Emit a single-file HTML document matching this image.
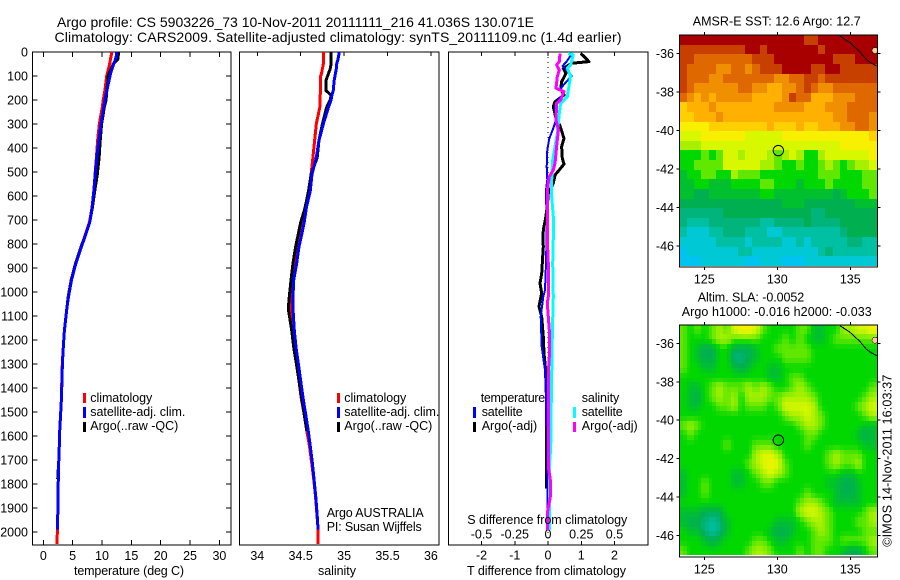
<!DOCTYPE html>
<html>
<head>
<meta charset="utf-8">
<title>Argo profile</title>
<style>
html,body{margin:0;padding:0;background:#fff;}
svg{display:block;}
text{font-family:"Liberation Sans",sans-serif;font-size:12.5px;fill:#000;}
.t{font-size:14px;}
</style>
</head>
<body>
<svg id="chart" xmlns="http://www.w3.org/2000/svg" width="900" height="580" viewBox="0 0 900 580">
<defs>
<clipPath id="clip-sst"><rect x="680" y="35" width="198" height="232"/></clipPath>
<clipPath id="clip-sla"><rect x="680" y="325" width="198" height="232"/></clipPath>
</defs>
<rect width="900" height="580" fill="#fff"/>
<g id="marks"></g>
<g id="overlay">
<text class="t" x="57" y="27" textLength="477">Argo profile: CS 5903226_73 10-Nov-2011 20111111_216 41.036S 130.071E</text>
<text class="t" x="54.5" y="42" textLength="567">Climatology: CARS2009. Satellite-adjusted climatology: synTS_20111109.nc (1.4d earlier)</text>

<text x="74" y="575" textLength="110">temperature (deg C)</text>
<text x="318" y="575" textLength="38">salinity</text>
<text x="467" y="575" textLength="159">T difference from climatology</text>
<text x="467.3" y="524" textLength="160">S difference from climatology</text>

<g>
<rect x="83" y="393" width="3" height="10" fill="#f00"/>
<rect x="83" y="407" width="3" height="11" fill="#00f"/>
<rect x="83" y="422" width="3" height="10" fill="#000"/>
<text x="90.3" y="402" textLength="62">climatology</text>
<text x="90.3" y="416" textLength="95">satellite-adj. clim.</text>
<text x="90.3" y="430" textLength="88">Argo(..raw -QC)</text>
</g>
<g>
<rect x="337" y="393" width="3" height="10" fill="#f00"/>
<rect x="337" y="407" width="3" height="11" fill="#00f"/>
<rect x="337" y="422" width="3" height="10" fill="#000"/>
<text x="344.3" y="402" textLength="62">climatology</text>
<text x="344.3" y="416" textLength="95">satellite-adj. clim.</text>
<text x="344.3" y="430" textLength="88">Argo(..raw -QC)</text>
<text x="326.7" y="517" textLength="97">Argo AUSTRALIA</text>
<text x="326.7" y="531" textLength="95">PI: Susan Wijffels</text>
</g>
<g>
<text x="480.7" y="402" textLength="64.5">temperature</text>
<text x="581.7" y="402" textLength="37.5">salinity</text>
<rect x="473" y="407" width="3" height="11" fill="#00f"/>
<rect x="473" y="422" width="3" height="10" fill="#000"/>
<rect x="573" y="407" width="3" height="11" fill="#0ff"/>
<rect x="573" y="422" width="3" height="10" fill="#f0f"/>
<text x="481.7" y="416" textLength="41">satellite</text>
<text x="481.7" y="430" textLength="55.5">Argo(-adj)</text>
<text x="581.7" y="416" textLength="41">satellite</text>
<text x="581.7" y="430" textLength="56">Argo(-adj)</text>
</g>

<text x="692.7" y="25.5" textLength="168">AMSR-E SST: 12.6 Argo: 12.7</text>
<text x="697.7" y="301.5" textLength="106.5">Altim. SLA: -0.0052</text>
<text x="681.7" y="316" textLength="190">Argo h1000: -0.016 h2000: -0.033</text>
<text transform="translate(891.5 546.7) rotate(-90)" x="0" y="0" textLength="172">©IMOS 14-Nov-2011 16:03:37</text>
</g>
</svg>
<script>
// ---------- profile data (depth in metres) ----------
const depthLevels = [0,10,30,50,70,90,100,120,140,160,180,200,230,300,370,440,510,580,650,710,780,810,880,950,1020,1070,1160,1230,1300,1370,1440,1510,1580,1640,1710,1780,1850,1920,1990,2050];
const tempClim = [11.65,11.6,11.45,11.3,11.1,10.9,10.8,10.7,10.6,10.5,10.35,10.2,10.05,9.54,9.25,9.05,8.8,8.65,8.3,7.85,6.9,6.45,5.5,4.75,4.25,4.0,3.6,3.4,3.24,3.16,3.1,2.95,2.8,2.72,2.62,2.55,2.5,2.47,2.4,2.33];
const tempSat = [12.5,12.5,12.3,12.0,11.7,11.45,11.36,11.2,11.0,10.85,10.65,10.5,10.3,9.83,9.45,9.1,8.85,8.6,8.3,7.9,6.95,6.5,5.55,4.8,4.3,4.0,3.6,3.4,3.25,3.17,3.1,2.95,2.8,2.72,2.62,2.55,2.5,2.47,2.4];
const tempArgo = [12.8,12.8,12.7,11.9,11.6,11.2,11.05,11.0,10.9,10.8,10.75,10.7,10.4,9.94,9.7,9.5,9.2,8.75,8.35,7.9,6.95,6.45,5.5,4.75,4.25,4.0,3.6,3.4,3.25,3.17,3.1,2.95,2.8,2.72,2.62,2.45];
const salClim = [34.76,34.76,34.76,34.76,34.75,34.74,34.73,34.73,34.73,34.73,34.725,34.72,34.72,34.68,34.66,34.64,34.62,34.6,34.56,34.52,34.49,34.47,34.43,34.4,34.376,34.38,34.4,34.43,34.45,34.48,34.505,34.54,34.57,34.6,34.625,34.65,34.67,34.685,34.7,34.7];
const salSat = [34.94,34.94,34.93,34.915,34.91,34.9,34.895,34.885,34.88,34.875,34.86,34.85,34.82,34.76,34.71,34.68,34.63,34.61,34.565,34.54,34.5,34.48,34.454,34.419,34.411,34.411,34.426,34.446,34.473,34.5,34.526,34.558,34.588,34.61,34.634,34.653,34.673,34.688,34.7];
const salArgo = [34.85,34.85,34.85,34.85,34.84,34.82,34.81,34.79,34.79,34.79,34.85,34.84,34.8,34.75,34.71,34.69,34.62,34.59,34.55,34.5,34.46,34.442,34.411,34.388,34.369,34.357,34.396,34.419,34.45,34.48,34.51,34.54,34.573];

const diffDepthTSat = [6,19,40,58,75,100,130,156,172,197,228,283,318,360,408,478,533,575,630,658,742,880,992,1020,1103,1228,1325,1450,1554,1560,1895,1992];
const diffTSat = [0.74,0.66,0.56,0.44,0.56,0.71,0.51,0.36,0.48,0.31,0.21,0.24,0.16,0.04,-0.02,-0.04,-0.02,-0.06,-0.06,-0.02,-0.04,-0.06,-0.09,-0.14,-0.22,-0.19,-0.09,-0.06,-0.06,-0.02,-0.02,-0.02];
const diffDepthTArgo = [6,22,40,47,68,89,124,156,179,207,228,269,308,360,394,443,467,513,547,589,644,700,742,776,811,922,964,1005,1061,1103,1186,1256,1339,1394,1818];
const diffTArgo = [0.98,1.11,1.23,0.71,0.46,0.54,0.41,0.38,0.48,0.21,0.16,0.23,0.36,0.48,0.41,0.43,0.48,0.21,0.16,0.01,-0.02,-0.08,-0.14,-0.15,-0.14,-0.19,-0.24,-0.19,-0.27,-0.19,-0.14,-0.12,-0.06,-0.04,-0.04];
const diffDepthSSat = [6,12,54,68,100,186,214,256,339,394,450,533,603,686,776,881,1020,1158,1339,1506,1651,1728,1992];
const diffSSat = [0.153,0.19,0.17,0.145,0.17,0.145,0.095,0.085,0.07,0.053,0.035,0.028,0.028,0.04,0.04,0.035,0.04,0.033,0.028,0.023,0.02,0.01,0.01];
const diffDepthSArgo = [6,40,54,75,103,151,165,200,214,283,325,394,464,492,519,575,644,776,881,1020,1047,1158,1270,1339,1644,1728,1783,1853,1922,1992];
const diffSArgo = [0.09,0.085,0.065,0.085,0.07,0.06,0.12,0.095,0.065,0.06,0.078,0.065,0.053,0.04,0.01,-0.005,-0.005,-0.005,0.0025,0.0025,-0.005,0.01,0.01,0.0025,0.0025,0.0025,0.0175,0.0175,-0.005,-0.005];

// ---------- tick labels ----------
const depthTicks = [0,100,200,300,400,500,600,700,800,900,1000,1100,1200,1300,1400,1500,1600,1700,1800,1900,2000];
const tempTicks = [0,5,10,15,20,25,30];
const salTicks = [34,34.5,35,35.5,36];
const salTickLabels = ["34","34.5","35","35.5","36"];
const diffTTicks = [-2,-1,0,1,2];
const diffSTicks = [-0.5,-0.25,0,0.25,0.5];
const diffSTickLabels = ["-0.5","-0.25","0","0.25","0.5"];
const lonTicks = [125,130,135];
const latTicks = [-36,-38,-40,-42,-44,-46];
const latTickLabels = ["-36","-38","-40","-42","-44","-46"];

// ---------- map data: colour level per 0.5 degree cell, north to south ----------
const mapColorLevels = [[0,196,240],[0,200,212],[0,192,164],[0,180,124],[0,176,80],[0,192,48],[0,216,0],[96,232,0],[168,240,0],[216,248,0],[248,240,0],[255,208,0],[255,176,0],[240,144,0],[224,104,0],[200,64,0],[168,0,0]];
const cellLons = [123.3,123.8,124.3,124.8,125.3,125.8,126.3,126.8,127.3,127.8,128.3,128.8,129.3,129.8,130.3,130.8,131.3,131.8,132.3,132.8,133.3,133.8,134.3,134.8,135.3,135.8,136.3];
const cellLats = [-35.03,-35.53,-36.03,-36.53,-37.03,-37.53,-38.03,-38.53,-39.03,-39.53,-40.03,-40.53,-41.03,-41.53,-42.03,-42.53,-43.03,-43.53,-44.03,-44.53,-45.03,-45.53,-46.03,-46.53];
const sstGrid = [
[16,16,16,16,16,16,16,16,16,16,16,16,16,16,16,16,16,15,15,16,16,16,16,16,16,16,16],
[15,15,15,15,15,15,15,15,15,16,16,15,16,16,16,16,16,16,16,15,16,16,16,16,16,16,16],
[15,15,14,14,14,14,14,14,14,14,15,15,15,16,16,16,16,16,16,16,16,15,15,15,16,16,16],
[15,14,14,14,14,13,13,14,14,13,14,15,15,15,16,16,16,16,15,15,16,16,15,15,15,15,15],
[15,14,14,14,13,13,14,14,14,14,14,14,14,13,13,14,14,15,15,14,15,15,15,15,15,15,15],
[15,14,13,13,13,13,13,13,14,14,13,13,12,12,13,13,14,15,14,13,13,14,14,14,14,14,14],
[14,13,12,13,12,13,13,13,13,13,12,12,12,12,13,15,14,14,12,12,12,13,13,13,14,14,14],
[11,12,12,12,13,12,12,12,12,12,12,12,12,13,13,13,13,12,12,12,13,13,13,14,14,14,14],
[11,11,12,12,12,13,12,12,12,12,12,12,12,12,12,12,12,12,12,12,12,13,13,14,14,14,13],
[10,10,10,10,11,11,11,11,11,11,11,11,12,11,11,11,12,11,11,12,12,12,13,13,14,14,13],
[9,9,9,10,10,10,10,10,10,9,9,9,9,9,10,10,10,10,10,10,10,10,10,10,10,10,11],
[8,8,8,9,9,9,9,9,9,9,9,9,9,9,9,9,9,9,9,9,9,9,10,10,10,10,10],
[6,6,6,7,6,7,9,9,8,9,9,9,8,7,8,9,8,6,6,8,9,9,9,9,9,9,10],
[6,6,7,7,7,7,9,9,9,9,9,8,8,7,6,6,7,6,6,7,8,7,6,7,8,8,9],
[5,6,6,7,7,6,6,8,7,7,7,6,6,6,6,6,6,6,6,7,7,7,6,6,6,7,7],
[5,5,6,6,5,5,5,6,6,6,6,7,7,6,6,6,5,6,6,6,7,6,6,6,6,7,7],
[5,5,4,4,5,5,5,5,5,5,5,6,6,5,5,5,5,5,5,5,5,4,5,6,6,6,7],
[4,4,4,4,4,4,4,4,4,4,4,4,4,4,5,5,5,4,4,4,4,4,4,4,5,5,5],
[3,3,3,3,3,3,4,4,4,4,4,4,4,4,4,4,4,4,3,3,4,4,4,4,4,4,4],
[3,2,2,2,3,3,3,3,3,3,3,2,2,3,3,3,3,4,3,3,3,3,4,4,4,4,4],
[2,1,1,1,2,2,3,3,3,2,2,2,1,1,2,2,2,2,2,2,2,2,3,4,4,4,4],
[1,1,1,1,1,2,2,2,2,1,2,2,2,2,1,1,2,1,2,2,2,2,2,3,3,2,2],
[0,1,1,1,1,1,1,1,2,2,1,1,1,1,1,1,1,1,1,2,3,2,2,2,2,2,2],
[0,0,0,1,1,1,1,1,1,0,0,1,1,1,0,0,0,1,1,1,1,1,1,1,1,1,1]
];
const slaGrid = [
[7,6,7,6,7,8,7,9,10,10,9,7,6,6,6,6,7,7,5,5,6,6,8,8,9,9,10],
[7,6,6,6,7,8,8,7,7,7,7,6,6,6,7,6,7,6,5,5,6,7,7,7,7,7,7],
[7,6,5,4,4,6,6,4,4,4,5,6,6,7,7,7,7,7,6,6,6,6,6,6,6,6,6],
[7,6,5,4,4,6,6,3,3,4,5,6,6,6,7,7,7,7,6,6,6,6,6,6,6,6,6],
[7,6,6,5,5,6,6,5,4,5,6,6,5,5,6,6,6,6,6,6,6,6,6,6,6,6,6],
[6,6,6,6,6,6,6,6,6,6,6,6,5,5,6,7,7,6,6,6,6,6,6,6,6,6,6],
[6,5,5,6,7,8,7,7,7,8,7,8,7,6,6,7,8,7,6,6,6,6,6,6,6,6,7],
[6,5,4,6,7,8,7,8,6,8,8,8,7,7,8,8,8,8,7,6,6,6,6,6,6,7,8],
[6,5,5,6,6,7,7,8,6,7,7,7,6,7,9,9,9,9,8,6,6,6,6,6,7,8,9],
[6,6,6,6,6,6,6,6,6,6,6,6,6,6,7,8,8,9,8,7,6,6,6,6,6,7,8],
[7,8,7,6,6,6,6,6,6,6,6,6,6,6,6,6,7,8,8,7,6,6,6,6,6,5,5],
[6,7,6,6,6,6,6,6,6,6,6,6,6,6,6,6,6,7,7,6,6,6,6,6,5,4,5],
[6,6,6,6,6,6,7,6,6,6,7,7,7,6,6,6,6,7,6,6,6,6,6,6,6,5,5],
[6,6,6,6,6,6,6,6,6,6,8,9,9,8,6,6,6,6,6,6,7,8,7,7,7,6,6],
[6,6,6,6,6,6,6,6,6,7,8,9,10,9,7,6,6,6,6,6,7,8,7,7,8,6,6],
[5,6,6,6,6,6,6,5,5,6,7,8,9,8,7,6,6,6,6,6,6,6,5,5,6,6,6],
[5,6,6,7,6,6,6,5,5,6,6,7,7,6,6,6,6,6,6,6,5,5,4,4,5,6,6],
[5,6,6,7,6,6,6,6,6,6,6,6,6,6,6,6,6,7,6,6,6,5,4,4,5,6,6],
[6,6,6,6,6,6,6,6,6,6,6,6,6,6,6,6,7,8,8,7,6,5,5,5,5,6,6],
[5,5,5,4,4,4,6,6,6,6,6,6,6,6,6,6,8,9,9,8,7,6,6,6,6,7,8],
[5,4,4,3,2,3,5,6,6,6,6,6,6,5,5,5,6,7,8,8,7,6,6,6,7,7,8],
[6,5,5,3,2,3,5,6,6,6,6,6,5,4,4,5,6,6,7,8,7,6,6,6,6,7,7],
[6,6,6,5,4,5,6,6,6,6,7,7,6,5,5,6,6,6,7,7,7,6,7,7,7,7,8],
[7,6,6,6,6,6,6,6,6,7,8,8,7,6,6,6,7,6,7,7,6,6,5,4,4,6,7]
];
const coastLons = [134.29,134.98,135.66,136.12,136.46,136.8];
const coastLats = [-35.08,-35.43,-35.9,-36.33,-36.5,-36.64];
const profileLon = 130.071;
const profileLat = -41.036;
const townLon = 136.69;
const townLat = -35.84;

// ---------- axis functions ----------
const depthY = d => 52 + 0.24 * d;
const tempX = v => 43.3 + 5.87 * v;
const salX = v => 257.3 + 86.8 * (v - 34);
const diffTX = v => 548 + 33.25 * v;
const diffSX = v => 548 + 133 * v;
const lonX = v => 777.3 + 14.6 * (v - 130);
const sstLatY = v => 53.7 + 19.23 * (-36 - v);
const slaLatY = v => 343.3 + 19.23 * (-36 - v);

const NS = "http://www.w3.org/2000/svg";
const root = document.getElementById("marks");
function make(tag, attrs, parent) {
  const el = document.createElementNS(NS, tag);
  for (const k in attrs) el.setAttribute(k, attrs[k]);
  (parent || root).appendChild(el);
  return el;
}
function tickLine(x1, y1, x2, y2) {
  const el = make("line", {x1: x1, y1: y1, x2: x2, y2: y2, stroke: "#000", "stroke-width": 1, "shape-rendering": "crispEdges"});
  
  
  return el;
}
function tickLabel(x, y, s, anchor) {
  const el = make("text", {x: x, y: y, "text-anchor": anchor});
  el.textContent = s;
  
  
  return el;
}
function frame(x, y, w, h) {
  const el = make("rect", {x: x, y: y, width: w, height: h, fill: "none", stroke: "#000", "stroke-width": 1, "shape-rendering": "crispEdges"});
  
  
  return el;
}
function profileLine(xs, ds, xFn, color, width) {
  const pts = xs.map((v, i) => xFn(v).toFixed(1) + "," + depthY(ds[i]).toFixed(1)).join(" ");
  const el = make("polyline", {points: pts, fill: "none", stroke: color, "stroke-width": width, "stroke-linejoin": "round", "shape-rendering": "crispEdges"});
  
  
  return el;
}

// ---------- profile panels ----------
const TOP = 52, BOT = 545;
// temperature
frame(32.5, TOP, 198.5, BOT - TOP);
depthTicks.forEach(d => {
  tickLine(32.5, depthY(d), 37.5, depthY(d));
  tickLine(226, depthY(d), 231, depthY(d));
  tickLabel(28, depthY(d) + 4.5, String(d), "end");
});
tempTicks.forEach(v => {
  tickLine(tempX(v), TOP, tempX(v), TOP + 5);
  tickLine(tempX(v), BOT - 5, tempX(v), BOT);
  tickLabel(tempX(v), 560, String(v), "middle");
});
profileLine(tempClim, depthLevels, tempX, "#f00", 3);
profileLine(tempArgo, depthLevels, tempX, "#000", 3);
profileLine(tempSat, depthLevels, tempX, "#00f", 3);
// salinity
frame(239.5, TOP, 199.5, BOT - TOP);
salTicks.forEach((v, i) => {
  tickLine(salX(v), TOP, salX(v), TOP + 4);
  tickLabel(salX(v), 560, salTickLabels[i], "middle");
});
profileLine(salClim, depthLevels, salX, "#f00", 3);
profileLine(salArgo, depthLevels, salX, "#000", 3);
profileLine(salSat, depthLevels, salX, "#00f", 3);
// differences
frame(448.5, TOP, 199.5, BOT - TOP);
const zeroLine = make("line", {x1: diffTX(0), y1: TOP, x2: diffTX(0), y2: BOT, stroke: "#000", "stroke-width": 1, "stroke-dasharray": "1 4", "shape-rendering": "crispEdges"});


diffTTicks.forEach(v => {
  tickLine(diffTX(v), TOP, diffTX(v), TOP + 4);
  tickLine(diffTX(v), BOT - 4, diffTX(v), BOT);
  tickLabel(diffTX(v), 559.5, String(v), "middle");
});
diffSTicks.forEach((v, i) => {
  tickLabel(diffSX(v), 538.7, diffSTickLabels[i], "middle");
});
profileLine(diffTArgo, diffDepthTArgo, diffTX, "#000", 3);
profileLine(diffTSat, diffDepthTSat, diffTX, "#00f", 2);
profileLine(diffSSat, diffDepthSSat, diffSX, "#0ff", 3);
profileLine(diffSArgo, diffDepthSArgo, diffSX, "#f0f", 3);

// ---------- maps ----------
function levelColor(level) {
  const lo = Math.floor(level);
  const hi = Math.min(lo + 1, mapColorLevels.length - 1);
  const f = level - lo;
  const c = mapColorLevels[lo].map((v, i) => Math.round(v + (mapColorLevels[hi][i] - v) * f));
  return "rgb(" + c.join(",") + ")";
}
function gridSample(grid, fr, fc) {
  const r0 = Math.max(0, Math.floor(fr));
  const c0 = Math.max(0, Math.floor(fc));
  const r1 = Math.min(grid.length - 1, r0 + 1);
  const c1 = Math.min(grid[0].length - 1, c0 + 1);
  const dr = Math.max(0, fr - r0);
  const dc = Math.max(0, fc - c0);
  const a = grid[r0][c0] * (1 - dc) + grid[r0][c1] * dc;
  const b = grid[r1][c0] * (1 - dc) + grid[r1][c1] * dc;
  return a * (1 - dr) + b * dr;
}
function drawMap(grid, latY, clipId, top, bottom, sub) {
  const g = make("g", {"clip-path": "url(#" + clipId + ")", "shape-rendering": "crispEdges"});
  
  
  const dStep = 0.5 / sub;
  grid.forEach((row, r) => {
    row.forEach((lvl, c) => {
      for (let j = 0; j < sub; j++) {
        for (let i = 0; i < sub; i++) {
          const x0 = Math.round(lonX(cellLons[c] + i * dStep));
          const x1 = Math.round(lonX(cellLons[c] + (i + 1) * dStep));
          const y0 = Math.round(latY(cellLats[r] - j * dStep));
          const y1 = Math.round(latY(cellLats[r] - (j + 1) * dStep));
          const value = gridSample(grid, r + (j + 0.5) / sub - 0.5, c + (i + 0.5) / sub - 0.5);
          const cell = make("rect", {x: x0, y: y0, width: x1 - x0, height: y1 - y0, fill: levelColor(value)}, g);
          
          
        }
      }
    });
  });
  const coastPts = coastLons.map((v, i) => lonX(v).toFixed(1) + "," + latY(coastLats[i]).toFixed(1)).join(" ");
  const coast = make("polyline", {points: coastPts, fill: "none", stroke: "#000", "stroke-width": 1}, g);
  
  
  const town = make("circle", {cx: lonX(townLon), cy: latY(townLat), r: 3, fill: "#ffcc99", stroke: "#000", "stroke-width": 0.5}, g);
  
  
  const marker = make("circle", {cx: lonX(profileLon), cy: latY(profileLat), r: 5.2, fill: "none", stroke: "#000", "stroke-width": 1});
  
  
  frame(679.5, top, 198, bottom - top);
  lonTicks.forEach(v => {
    tickLine(lonX(v), top - 3, lonX(v), top);
    tickLine(lonX(v), bottom, lonX(v), bottom + 3);
    tickLabel(lonX(v), bottom + 16.5, String(v), "middle");
  });
  latTicks.forEach((v, i) => {
    tickLine(676.5, latY(v), 679.5, latY(v));
    tickLine(877.5, latY(v), 880.5, latY(v));
    tickLabel(674, latY(v) + 4.5, latTickLabels[i], "end");
  });
}
drawMap(sstGrid, sstLatY, "clip-sst", 35, 267, 1);
drawMap(slaGrid, slaLatY, "clip-sla", 325, 557, 2);
</script>
</body>
</html>
